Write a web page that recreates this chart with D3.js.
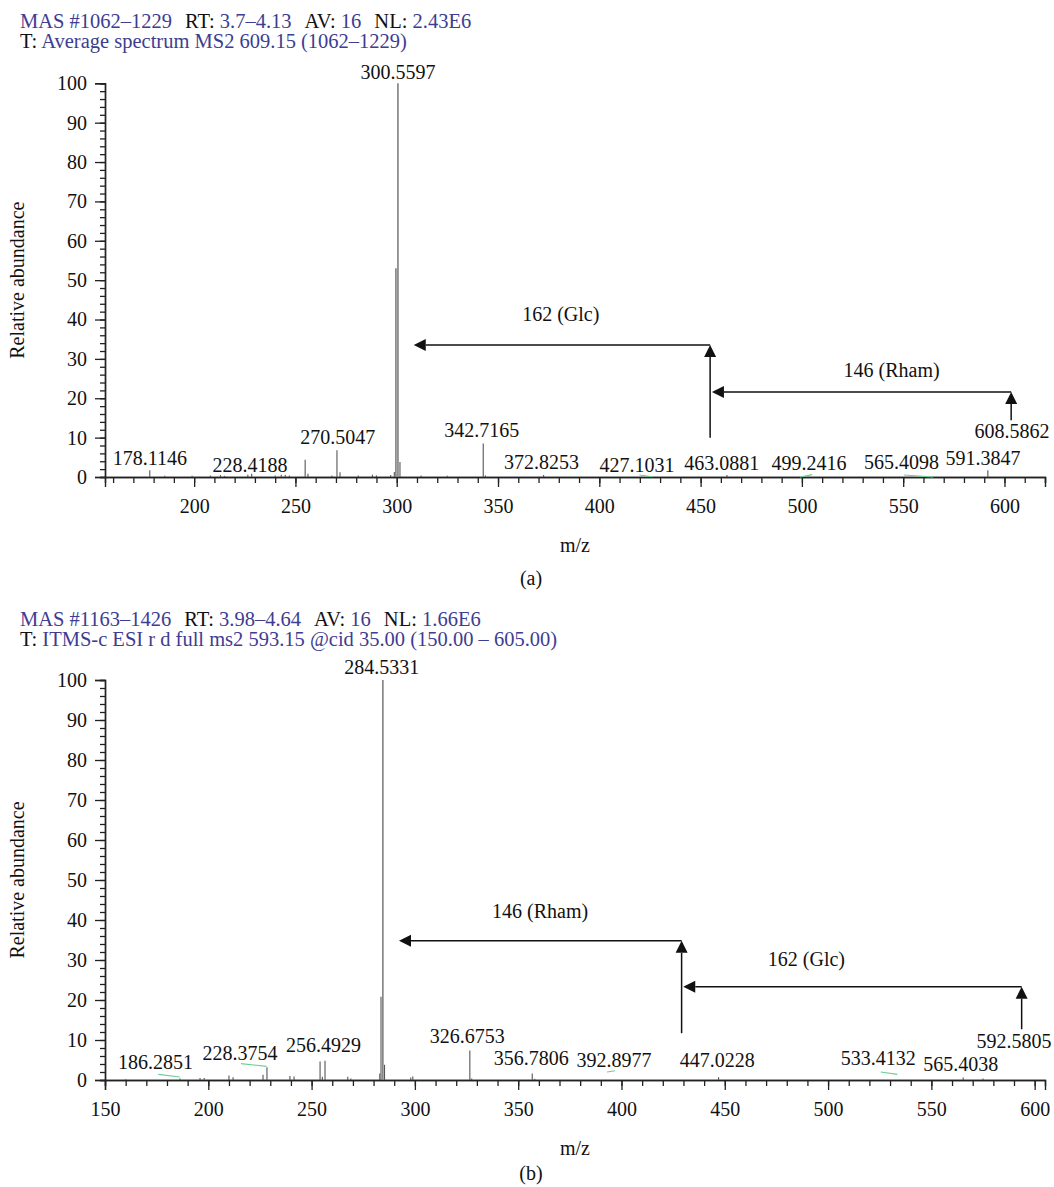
<!DOCTYPE html>
<html>
<head>
<meta charset="utf-8">
<script src="https://cdn.jsdelivr.net/npm/d3@7/dist/d3.min.js"></script>
<style>
  body { margin: 0; background: #fff; }
  svg, svg text { font-family: "Liberation Serif", "Times New Roman", serif; }
</style>
</head>
<body>
<script>
// ---------- data ----------
// header lines: [text, isValue]
const headA1 = [["MAS #1062–1229", 1], ["RT:", 0], ["3.7–4.13", 1], ["AV:", 0], ["16", 1], ["NL:", 0], ["2.43E6", 1]];
const headA2 = [["T:", 0], ["Average spectrum MS2 609.15 (1062–1229)", 1]];
const headB1 = [["MAS #1163–1426", 1], ["RT:", 0], ["3.98–4.64", 1], ["AV:", 0], ["16", 1], ["NL:", 0], ["1.66E6", 1]];
const headB2 = [["T:", 0], ["ITMS-c ESI r d full ms2 593.15 @cid 35.00 (150.00 – 605.00)", 1]];

// peaks [m/z, relative abundance]
const peaksA = [
  [178.1, 1.7], [185.5, 0.3], [199, 0.3], [208, 0.4], [213, 0.5], [215, 0.3], [226.5, 0.6], [228.4, 0.8],
  [240, 0.4], [243, 0.6], [245, 0.5], [247, 0.4], [254.8, 4.4], [256.2, 0.8], [268, 0.4], [270.5, 6.8],
  [272, 1.2], [281, 0.4], [288, 0.6], [290, 0.4], [297, 0.5], [298.8, 1.3], [299.6, 53], [300.6, 100],
  [301.6, 3.8], [312, 0.4], [325, 0.3], [342.7, 8.5], [343.8, 0.4], [372.5, 0.5], [463, 0.5], [591.8, 1.7]
];
const peaksB = [
  [160, 0.2], [186.3, 0.4], [196, 0.5], [198, 0.5], [210, 1.1], [212, 0.7], [226.5, 1.3], [228.4, 3.2],
  [239.5, 1.0], [241.5, 0.9], [254.1, 4.6], [255.2, 0.8], [256.5, 4.8], [267.5, 0.8], [269, 0.4],
  [283.0, 1.6], [283.6, 20.8], [284.5, 100], [285.3, 3.8], [298, 0.6], [299, 0.9], [326.6, 7.4],
  [327.5, 0.4], [356.8, 1.6], [358, 0.3], [447, 0.7], [565.4, 0.6], [575, 0.4]
];

// peak labels [text, centre m/z, baseline level]
const labelsA = [
  ["178.1146", 178.1, 3.1], ["228.4188", 227.6, 1.35], ["270.5047", 270.9, 8.3], ["300.5597", 300.6, 101.1],
  ["342.7165", 342.0, 10.2], ["372.8253", 371.5, 2.0], ["427.1031", 418.6, 1.2], ["463.0881", 460.4, 1.85],
  ["499.2416", 503.5, 1.85], ["565.4098", 549.2, 2.0], ["591.3847", 589.4, 3.0], ["608.5862", 603.7, 9.8]
];
const labelsB = [
  ["186.2851", 174.5, 2.75], ["228.3754", 215.3, 5.1], ["256.4929", 255.8, 7.1], ["284.5331", 283.9, 101.5],
  ["326.6753", 325.4, 9.3], ["356.7806", 356.3, 3.75], ["392.8977", 396.4, 3.15], ["447.0228", 446.4, 3.15],
  ["533.4132", 524.3, 3.75], ["565.4038", 564.2, 2.25], ["592.5805", 590.0, 7.9]
];

// neutral-loss arrows [from m/z, from level, to m/z, to level] (head at "to")
const arrowsA = [
  [454.7, 10, 454.7, 33.5], [454.7, 33.5, 308.4, 33.5],
  [603.3, 14.4, 603.3, 21.6], [603.3, 21.6, 455.6, 21.6]
];
const arrowsB = [
  [429.1, 11.7, 429.1, 34.8], [429.1, 34.8, 292.3, 34.8],
  [593.7, 12.7, 593.7, 23.3], [593.7, 23.3, 429.9, 23.3]
];
const lossLabelsA = [["162 (Glc)", 381, 39.6], ["146 (Rham)", 544.3, 25.3]];
const lossLabelsB = [["146 (Rham)", 360.6, 40.5], ["162 (Glc)", 489.5, 28.6]];

// little green traces [m1, v1, m2, v2]
const greenA = [[419.8, 0.5, 426.2, 0.05], [499.0, 0.0, 505.1, 0.6], [550.4, 0.5, 564.8, 0.0]];
const greenB = [[175.8, 1.4, 186.2, 0.75], [215.8, 4.1, 228.2, 3.4], [393.0, 2.0, 396.9, 2.3], [525.5, 2.0, 533.5, 1.4]];

const yMajor = d3.range(0, 101, 10);
const yMinor = d3.range(0, 101, 2);

// ---------- drawing ----------
const BLUE = '#3d3d91';
const INK = '#111';
const SERIF = '"Liberation Serif", "Times New Roman", serif';
const svg = d3.select('body').append('svg').attr('width', 1054).attr('height', 1187)
  .attr('font-family', SERIF);

function header(base, parts) {
  const t = svg.append('text').attr('x', 20).attr('y', base).attr('font-size', 20.5)
    .attr('xml:space', 'preserve');
  parts.forEach(([s, isVal], i) => {
    t.append('tspan')
      .attr('dx', !isVal && i > 0 ? 13 : null)
      .attr('fill', isVal ? BLUE : INK)
      .text(isVal && i > 0 ? ' ' + s : s);
  });
}

function styleAxis(sel) {
  sel.attr('font-family', SERIF).attr('font-size', 20);
  sel.selectAll('.tick line').attr('stroke', '#222').attr('stroke-width', 1.3);
  sel.selectAll('.tick text').attr('font-family', SERIF).attr('font-size', 20).attr('fill', INK);
  sel.selectAll('.domain').attr('stroke', '#222').attr('stroke-width', 1.4);
}

function panel(cfg) {
  const x = d3.scaleLinear().domain(cfg.xDomain).range([105, 1045]);
  const y = d3.scaleLinear().domain([0, 100]).range(cfg.yRange);
  const g = svg.append('g');

  header(cfg.headY, cfg.head1);
  header(cfg.headY + 20, cfg.head2);

  // y axis
  const yax = g.append('g').attr('transform', 'translate(105,0)');
  yax.call(d3.axisLeft(y).tickValues(yMinor).tickSize(5).tickFormat(''));
  const yaxMaj = yax.append('g').call(d3.axisLeft(y).tickValues(yMajor).tickSize(10).tickPadding(8));
  styleAxis(yax); styleAxis(yaxMaj);

  // x axis
  const y0 = y(0);
  const xax = g.append('g').attr('transform', `translate(0,${y0})`);
  xax.call(d3.axisBottom(x).tickValues(cfg.xMinor).tickSize(6).tickFormat(''));
  const xaxMaj = xax.append('g').call(d3.axisBottom(x).tickValues(cfg.xMajor).tickSize(10).tickPadding(12));
  styleAxis(xax); styleAxis(xaxMaj);

  // peaks
  g.append('g').selectAll('line').data(cfg.peaks).join('line')
    .attr('x1', d => x(d[0])).attr('x2', d => x(d[0]))
    .attr('y1', y0).attr('y2', d => y(d[1]))
    .attr('stroke', d => d[1] > 50 ? '#777' : '#555')
    .attr('stroke-width', d => d[1] > 50 ? 1.5 : 1.1);

  // green traces
  g.append('g').selectAll('line').data(cfg.green).join('line')
    .attr('x1', d => x(d[0])).attr('y1', d => y(d[1]))
    .attr('x2', d => x(d[2])).attr('y2', d => y(d[3]))
    .attr('stroke', '#6ccf8e').attr('stroke-width', 1.1);

  // peak labels
  g.append('g').selectAll('text').data(cfg.labels).join('text')
    .attr('x', d => x(d[1])).attr('y', d => y(d[2]))
    .attr('text-anchor', 'middle').attr('font-size', 20).attr('fill', INK)
    .text(d => d[0]);

  // arrows
  const head = 12, half = 6;
  cfg.arrows.forEach(([m1, v1, m2, v2]) => {
    const ax = x(m1), ay = y(v1), bx = x(m2), by = y(v2);
    const len = Math.hypot(bx - ax, by - ay);
    const ux = (bx - ax) / len, uy = (by - ay) / len;
    const cx = bx - ux * head, cy = by - uy * head;
    g.append('line').attr('x1', ax).attr('y1', ay).attr('x2', cx).attr('y2', cy)
      .attr('stroke', INK).attr('stroke-width', 1.5);
    g.append('path')
      .attr('d', `M${bx},${by}L${cx - uy * half},${cy + ux * half}L${cx + uy * half},${cy - ux * half}Z`)
      .attr('fill', INK);
  });
  g.append('g').selectAll('text').data(cfg.lossLabels).join('text')
    .attr('x', d => x(d[1])).attr('y', d => y(d[2]))
    .attr('text-anchor', 'middle').attr('font-size', 20).attr('fill', INK)
    .text(d => d[0]);

  // axis titles
  g.append('text').attr('transform', `translate(24,${(cfg.yRange[0] + cfg.yRange[1]) / 2}) rotate(-90)`)
    .attr('text-anchor', 'middle').attr('font-size', 20).attr('fill', INK).text('Relative abundance');
  g.append('text').attr('x', 575).attr('y', y0 + 75).attr('text-anchor', 'middle')
    .attr('font-size', 20).attr('fill', INK).text('m/z');
  g.append('text').attr('x', 531).attr('y', y0 + cfg.captionDy).attr('text-anchor', 'middle')
    .attr('font-size', 20).attr('fill', INK).text(cfg.caption);
}

panel({
  headY: 28, head1: headA1, head2: headA2,
  xDomain: [156, 620], yRange: [477, 83.3],
  xMajor: d3.range(200, 601, 50), xMinor: d3.range(160, 621, 10),
  peaks: peaksA, labels: labelsA, arrows: arrowsA, lossLabels: lossLabelsA, green: greenA,
  caption: '(a)', captionDy: 108
});
panel({
  headY: 626, head1: headB1, head2: headB2,
  xDomain: [150, 605], yRange: [1080, 680],
  xMajor: d3.range(150, 601, 50), xMinor: d3.range(150, 601, 10),
  peaks: peaksB, labels: labelsB, arrows: arrowsB, lossLabels: lossLabelsB, green: greenB,
  caption: '(b)', captionDy: 100
});
</script>
</body>
</html>
